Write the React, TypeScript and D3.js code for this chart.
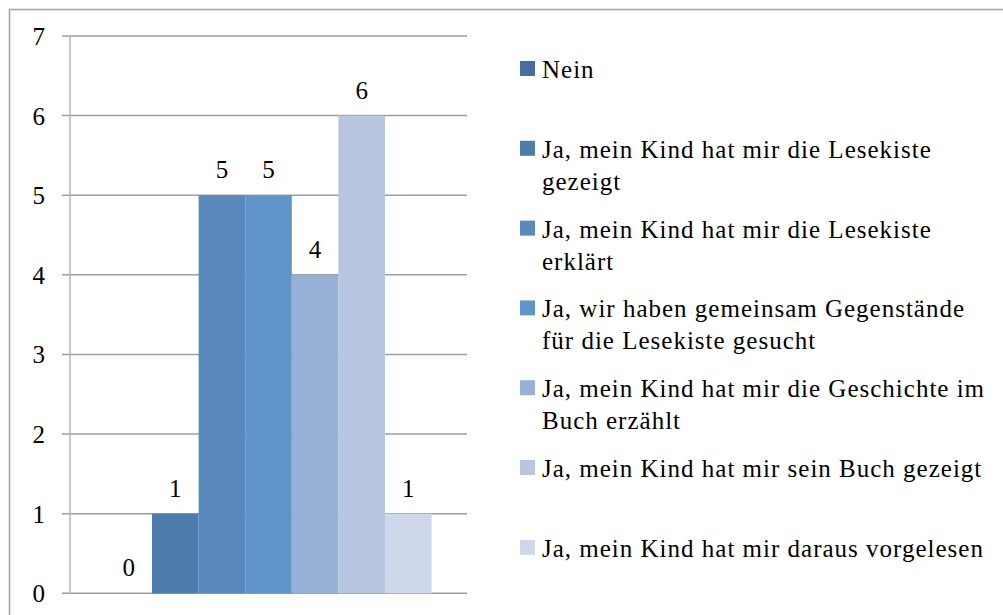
import React from "react";
import * as d3 from "d3";

const seriesNames = [
  "Nein",
  "Ja, mein Kind hat mir die Lesekiste gezeigt",
  "Ja, mein Kind hat mir die Lesekiste erklärt",
  "Ja, wir haben gemeinsam Gegenstände für die Lesekiste gesucht",
  "Ja, mein Kind hat mir die Geschichte im Buch erzählt",
  "Ja, mein Kind hat mir sein Buch gezeigt",
  "Ja, mein Kind hat mir daraus vorgelesen",
];
const values = [0, 1, 5, 5, 4, 6, 1];
const colors = ["#476f9e", "#4e7cad", "#5a8abd", "#6095c9", "#97b1d6", "#b8c6e2", "#cfd8ea"];
const yTicks = [0, 1, 2, 3, 4, 5, 6, 7];
// legend line breaks (layout)
const legendLines = [
  ["Nein"],
  ["Ja, mein Kind hat mir die Lesekiste", "gezeigt"],
  ["Ja, mein Kind hat mir die Lesekiste", "erklärt"],
  ["Ja, wir haben gemeinsam Gegenstände", "für die Lesekiste gesucht"],
  ["Ja, mein Kind hat mir die Geschichte im", "Buch erzählt"],
  ["Ja, mein Kind hat mir sein Buch gezeigt"],
  ["Ja, mein Kind hat mir daraus vorgelesen"],
];

const FONT = '"Liberation Serif", "Times New Roman", "DejaVu Serif", serif';
const FS = 25;
const LS = 1;

export default function App() {
  const W = 1003, H = 615;
  const x0 = 70, x1 = 467, yTop = 36, yBot = 593.3;
  const y = d3.scaleLinear().domain([0, 7]).range([yBot, yTop]);
  const x = d3.scaleBand<string>().domain(seriesNames).range([x0, x1]).paddingInner(0).paddingOuter(0.76);
  const txt = { fontFamily: FONT, fontSize: FS + "px" } as React.CSSProperties;

  return (
    <svg width={W} height={H} style={{ position: "absolute", left: 0, top: 0 }}>
      <rect x={0} y={0} width={W} height={H} fill="#fff" />
      <rect x={9.5} y={9.5} width={W + 20} height={H + 20} fill="none" stroke="#a3a3a3" strokeWidth={1.5} />
      {yTicks.map((t) => (
        <g key={t}>
          <line x1={62} x2={x1} y1={y(t)} y2={y(t)} stroke="#9e9e9e" strokeWidth={1.5} />
          <text x={45} y={y(t) + 9} textAnchor="end" style={txt} fill="#000">
            {t}
          </text>
        </g>
      ))}
      <line x1={x0} x2={x0} y1={yTop} y2={yBot} stroke="#b0b0b0" strokeWidth={1.4} />
      {seriesNames.map((s, i) => (
        <g key={s}>
          <rect x={x(s)!} y={y(values[i])} width={x.bandwidth()} height={yBot - y(values[i])} fill={colors[i]} />
          <text x={x(s)! + x.bandwidth() / 2} y={y(values[i]) - 17} textAnchor="middle" style={txt} fill="#000">
            {values[i]}
          </text>
        </g>
      ))}
      {seriesNames.map((s, i) => {
        const top = 61 + i * 79.8;
        return (
          <g key={"l" + s}>
            <rect x={520} y={top} width={15} height={15} fill={colors[i]} />
            {legendLines[i].map((ln, j) => (
              <text key={j} x={542} y={top + 17 + j * 32} style={{ ...txt, letterSpacing: LS + "px" }} fill="#000">
                {ln}
              </text>
            ))}
          </g>
        );
      })}
    </svg>
  );
}
